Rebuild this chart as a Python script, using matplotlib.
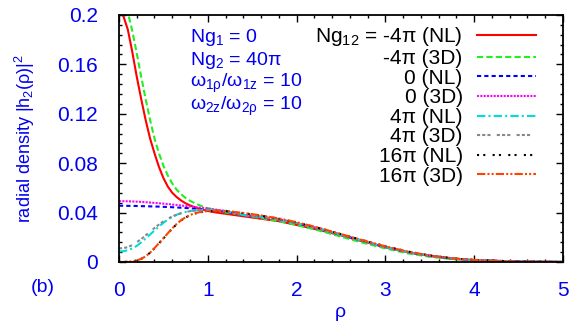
import matplotlib
matplotlib.use("Agg")
import matplotlib.pyplot as plt
from matplotlib.ticker import MultipleLocator

plt.rcParams['font.family'] = ['Liberation Sans', 'DejaVu Sans']
plt.rcParams['mathtext.fontset'] = 'custom'
plt.rcParams['mathtext.rm'] = 'Liberation Sans'
plt.rcParams['mathtext.it'] = 'Liberation Sans'

BLUE = '#0000ee'

# radial coordinate grid
rho = [0.0, 0.05, 0.1, 0.15, 0.2, 0.25, 0.3, 0.35, 0.4, 0.45, 0.5, 0.55, 0.6,
       0.65, 0.7, 0.75, 0.8, 0.85, 0.9, 0.95, 1.0, 1.05, 1.1, 1.15, 1.2,
       1.4, 1.6, 1.8, 2.0, 2.25, 2.5, 2.75, 3.0, 3.25, 3.5, 3.75, 4.0, 4.5, 5.0]

tail_mid = [0.0380, 0.0365, 0.0345, 0.0315, 0.0270, 0.0220, 0.0170, 0.0120,
            0.0080, 0.0050, 0.0028, 0.0015, 0.0003, 0.0]

m4_nl = [0.203, 0.199, 0.188, 0.170, 0.150, 0.132, 0.115, 0.100, 0.088, 0.077,
         0.068, 0.061, 0.056, 0.0525, 0.0497, 0.0475, 0.0458, 0.0444, 0.0432,
         0.0422, 0.0413, 0.0406, 0.0400, 0.0395, 0.0390,
         0.0370, 0.0350, 0.0330, 0.0300, 0.0260, 0.0215, 0.0165, 0.0120,
         0.0080, 0.0048, 0.0027, 0.0014, 0.0003, 0.0]
m4_3d = [0.216, 0.212, 0.202, 0.187, 0.169, 0.150, 0.132, 0.115, 0.100, 0.088,
         0.078, 0.070, 0.0635, 0.0585, 0.0548, 0.0518, 0.0495, 0.0477, 0.0461,
         0.0447, 0.0435, 0.0425, 0.0416, 0.0408, 0.0400,
         0.0380, 0.0355, 0.0330, 0.0300, 0.0255, 0.0205, 0.0155, 0.0110,
         0.0070, 0.0042, 0.0023, 0.0012, 0.0002, 0.0]
z_nl = [0.0455, 0.0455, 0.0454, 0.0454, 0.0453, 0.0452, 0.0451, 0.0450, 0.0449,
        0.0448, 0.0446, 0.0445, 0.0443, 0.0441, 0.0439, 0.0437, 0.0435, 0.0432,
        0.0429, 0.0426, 0.0423, 0.0419, 0.0416, 0.0412, 0.0408] + tail_mid
z_3d = [0.0492, 0.0492, 0.0491, 0.0490, 0.0488, 0.0486, 0.0484, 0.0481, 0.0478,
        0.0475, 0.0472, 0.0469, 0.0465, 0.0461, 0.0457, 0.0453, 0.0449, 0.0445,
        0.0441, 0.0437, 0.0433, 0.0428, 0.0423, 0.0418, 0.0413] + tail_mid
p4_nl = [0.0085, 0.0087, 0.0095, 0.0110, 0.0130, 0.0158, 0.0190, 0.0222, 0.0255,
         0.0287, 0.0317, 0.0343, 0.0365, 0.0382, 0.0395, 0.0405, 0.0412, 0.0417,
         0.0420, 0.0422, 0.0422, 0.0421, 0.0419, 0.0416, 0.0413] + tail_mid
p4_3d = [0.0110, 0.0112, 0.0120, 0.0137, 0.0160, 0.0185, 0.0215, 0.0245, 0.0275,
         0.0303, 0.0328, 0.0350, 0.0368, 0.0383, 0.0395, 0.0404, 0.0411, 0.0416,
         0.0420, 0.0422, 0.0423, 0.0422, 0.0420, 0.0417, 0.0414] + tail_mid
p16_nl = [0.0, 0.0, 0.0002, 0.0005, 0.0012, 0.0025, 0.0045, 0.0075, 0.0110,
          0.0150, 0.0190, 0.0230, 0.0270, 0.0306, 0.0336, 0.0360, 0.0378, 0.0391,
          0.0400, 0.0406, 0.0410, 0.0412, 0.0413, 0.0412, 0.0411,
          0.0395, 0.0375, 0.0350, 0.0320, 0.0275, 0.0225, 0.0175, 0.0128,
          0.0085, 0.0053, 0.0030, 0.0016, 0.0003, 0.0]
p16_3d = [0.0, 0.0, 0.0002, 0.0005, 0.0012, 0.0025, 0.0045, 0.0075, 0.0112,
          0.0152, 0.0192, 0.0232, 0.0272, 0.0308, 0.0338, 0.0362, 0.0380, 0.0393,
          0.0402, 0.0408, 0.0412, 0.0414, 0.0415, 0.0414, 0.0413,
          0.0397, 0.0377, 0.0352, 0.0322, 0.0277, 0.0226, 0.0175, 0.0127,
          0.0084, 0.0052, 0.0030, 0.0016, 0.0003, 0.0]

labels = [r'Ng$_{12}$ = -4π (NL)', '-4π (3D)', '0 (NL)', '0 (3D)',
          '4π (NL)', '4π (3D)', '16π (NL)', '16π (3D)']

fig = plt.figure(figsize=(5.81, 3.32), dpi=100)
ax = fig.add_axes([0.2048, 0.211, 0.764, 0.744])

lw = 1.5
ax.plot(rho, m4_nl, color='#ff0000', lw=lw, ls='-', label=labels[0])
ax.plot(rho, m4_3d, color='#22ee22', lw=lw, ls=(0, (3, 1.5)), label=labels[1])
ax.plot(rho, z_nl, color='#0000ff', lw=lw, ls=(0, (2, 1.5)), label=labels[2])
ax.plot(rho, z_3d, color='#ff00ff', lw=lw, ls=(0, (1, 0.6)), label=labels[3])
ax.plot(rho, p4_nl, color='#00dddd', lw=lw, ls=(0, (4, 1.5, 1, 1.5)), label=labels[4])
ax.plot(rho, p4_3d, color='#888888', lw=lw, ls=(0, (1.5, 1, 1.5, 1, 1.5, 3)), label=labels[5])
ax.plot(rho, p16_nl, color='black', lw=lw, ls=(0, (1, 2, 1, 3.5)), label=labels[6])
ax.plot(rho, p16_3d, color='#ff4400', lw=lw, ls=(0, (4, 1, 1, 1, 1, 1)), label=labels[7])

ax.set_xlim(0, 5)
ax.set_ylim(0, 0.2)
ax.xaxis.set_major_locator(MultipleLocator(1))
ax.xaxis.set_minor_locator(MultipleLocator(0.2))
ax.yaxis.set_minor_locator(MultipleLocator(0.008))
ax.set_yticks([0, 0.04, 0.08, 0.12, 0.16, 0.2])
ax.set_yticklabels(['0', '0.04', '0.08', '0.12', '0.16', '0.2'])

ax.tick_params(which='both', direction='in', top=True, right=True,
               colors='black', labelcolor=BLUE, labelsize=15, width=1)
ax.tick_params(which='major', length=5)
ax.tick_params(which='minor', length=2.5)
ax.tick_params(axis='x', pad=14)
ax.tick_params(axis='y', pad=15)
for s in ax.spines.values():
    s.set_linewidth(1.3)

ax.set_xlabel('ρ', color=BLUE, fontsize=14)
ax.xaxis.set_label_coords(0.498, -0.17)
ax.set_ylabel(r'radial density |h$_2$(ρ)|$^2$', color=BLUE, fontsize=13)
ax.yaxis.set_label_coords(-0.185, 0.5)

fig.text(0.074, 0.133, '(b)', color=BLUE, fontsize=14, ha='center', va='center')

info = [r'Ng$_1$ = 0', r'Ng$_2$ = 40π', r'ω$_{1ρ}$/ω$_{1z}$ = 10',
        r'ω$_{2z}$/ω$_{2ρ}$ = 10']
for i, t in enumerate(info):
    ax.text(0.161, 0.91 - i * 0.094, t, transform=ax.transAxes, color=BLUE,
            fontsize=14, ha='left', va='center')

ax.legend(loc='upper right', markerfirst=False, frameon=False, fontsize=15,
          handlelength=2.8, labelspacing=0.03, borderaxespad=0.1,
          handletextpad=0.7, bbox_to_anchor=(0.962, 1.0))

fig.savefig('out.png', dpi=100)
